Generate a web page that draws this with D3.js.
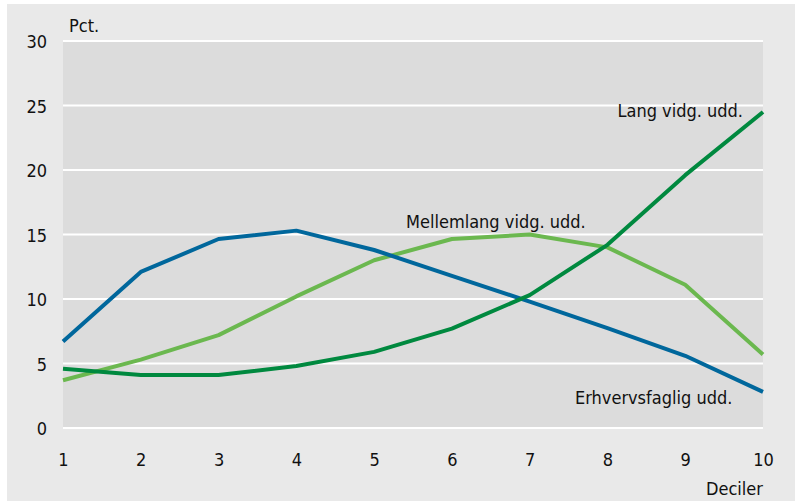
<!DOCTYPE html>
<html>
<head>
<meta charset="utf-8">
<script src="https://cdn.jsdelivr.net/npm/d3@7"></script>
<style>
  body{margin:0;background:#fff;}
  text{font-family:"Liberation Sans Narrow","DejaVu Sans Condensed",sans-serif;fill:#111;}
</style>
</head>
<body>
<svg id="chart" width="795" height="501"></svg>
<script>
// data
var deciles=[1,2,3,4,5,6,7,8,9,10]
var erhverv=[6.7,12.1,14.65,15.3,13.8,11.8,9.8,7.75,5.6,2.8]
var mellemlang=[3.7,5.3,7.2,10.2,13.0,14.65,15.0,14.0,11.1,5.7]
var lang=[4.6,4.1,4.1,4.8,5.9,7.7,10.3,14.2,19.6,24.5]
var yTicks=[0,5,10,15,20,25,30]

var svg=d3.select("#chart")
var margins={left:63,right:763,top:41,bottom:428}
var fs="18px"

svg.append("rect")
    .attr("x",7).attr("y",4)
    .attr("width",788).attr("height",497)
    .attr("fill","#e9e9e9")

var xScale=d3.scaleLinear().domain([1,10]).range([margins.left,margins.right])
var yScale=d3.scaleLinear().domain([0,30]).range([margins.bottom,margins.top])

svg.append("rect")
    .attr("x",margins.left).attr("y",margins.top)
    .attr("width",margins.right-margins.left)
    .attr("height",margins.bottom-margins.top)
    .attr("fill","#dcdcdc")

//gridlines
svg.selectAll(".grid")
    .data(yTicks)
    .enter()
    .append("line")
    .attr("x1",margins.left).attr("x2",margins.right)
    .attr("y1",function(d){return yScale(d)})
    .attr("y2",function(d){return yScale(d)})
    .attr("stroke","#fff")
    .attr("stroke-width",2)

var yAxis=d3.axisLeft(yScale).tickValues(yTicks).tickSize(0).tickPadding(16)
svg.append("g")
    .attr("transform","translate("+margins.left+",0)")
    .call(yAxis)
    .call(function(g){g.select(".domain").remove()})
    .selectAll("text").style("font-size",fs).attr("dy","0.38em")

var xAxis=d3.axisBottom(xScale).tickValues(deciles).tickSize(0).tickPadding(25)
svg.append("g")
    .attr("transform","translate(0,"+margins.bottom+")")
    .call(xAxis)
    .call(function(g){g.select(".domain").remove()})
    .selectAll("text").style("font-size",fs)

var line=d3.line()
    .x(function(d,i){return xScale(deciles[i])})
    .y(function(d){return yScale(d)})

var series=[
    {values:mellemlang,color:"#6bb84f"},
    {values:erhverv,color:"#00679c"},
    {values:lang,color:"#00893f"}
]
svg.selectAll(".series")
    .data(series)
    .enter()
    .append("path")
    .attr("d",function(s){return line(s.values)})
    .attr("fill","none")
    .attr("stroke",function(s){return s.color})
    .attr("stroke-width",4)
    .attr("stroke-linejoin","round")

svg.append("text").attr("x",69).attr("y",32).style("font-size",fs).text("Pct.")
svg.append("text").attr("x",763).attr("y",495).attr("text-anchor","end").style("font-size",fs).text("Deciler")
svg.append("text").attr("x",743).attr("y",117).attr("text-anchor","end").style("font-size",fs).text("Lang vidg. udd.")
svg.append("text").attr("x",406).attr("y",228).style("font-size",fs).text("Mellemlang vidg. udd.")
svg.append("text").attr("x",575).attr("y",404).style("font-size",fs).text("Erhvervsfaglig udd.")
</script>
</body>
</html>
